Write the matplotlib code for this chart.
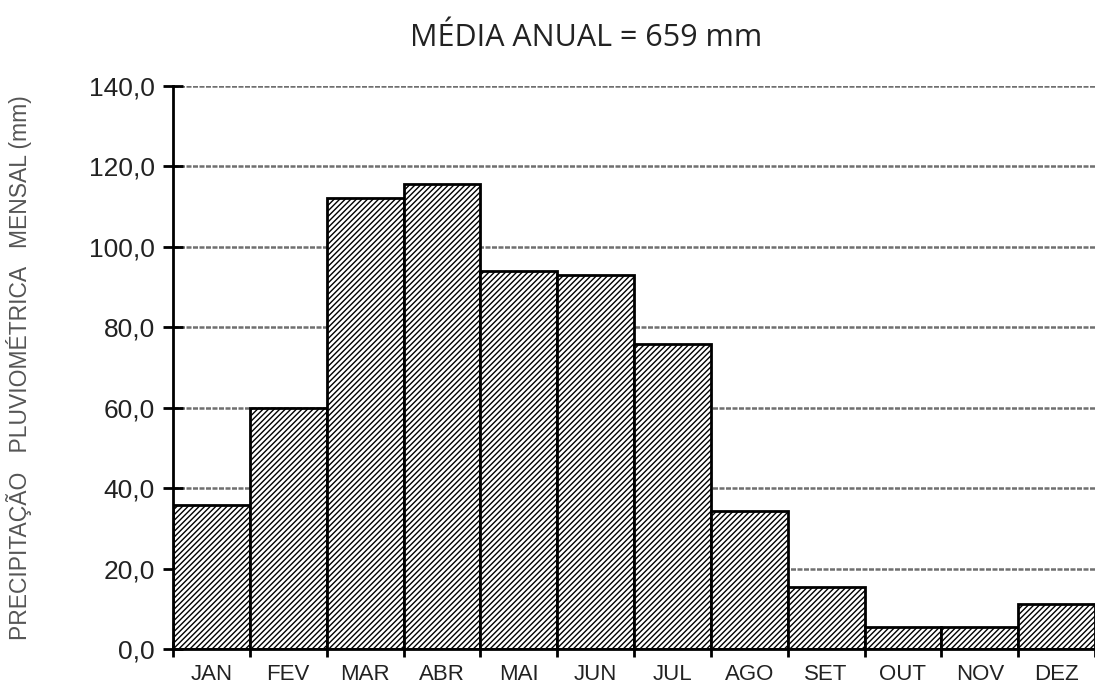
import numpy as np
import matplotlib.pyplot as plt

# precipitação média mensal (mm)
meses = ["JAN", "FEV", "MAR", "ABR", "MAI", "JUN", "JUL", "AGO", "SET", "OUT", "NOV", "DEZ"]
precip = [35.8, 60.0, 112.2, 115.7, 94.0, 93.0, 75.9, 34.3, 15.4, 5.5, 5.5, 11.2]
yticks = [0, 20, 40, 60, 80, 100, 120, 140]

plt.rcParams['hatch.color'] = '#707070'
plt.rcParams['hatch.linewidth'] = 1.0

fig = plt.figure(figsize=(10.95, 6.91), dpi=100)
ax = fig.add_axes([0.158, 0.0608, 0.842, 0.8147])

x = np.arange(len(meses))
ax.bar(x + 0.5, precip, width=1.0, facecolor='white', edgecolor='black',
       linewidth=2, hatch='//////', zorder=3)

# linhas de grade horizontais
for y in yticks[1:]:
    ax.axhline(y, color='#707070', lw=1.8, ls=(0, (2, 0.6)), zorder=1)

ax.set_xlim(0, 12)
ax.set_ylim(0, 140)
ax.set_xticks(np.arange(13))
ax.set_xticklabels([])
ax.set_xticks(x + 0.5, minor=True)
ax.set_xticklabels(meses, minor=True, fontsize=16, family='Liberation Sans', color='#222222')
ax.tick_params(axis='x', which='minor', length=0, pad=11)
ax.tick_params(axis='x', which='major', direction='inout', length=12, width=2)

ax.set_yticks(yticks)
ax.set_yticklabels([("%.1f" % v).replace('.', ',') for v in yticks],
                   fontsize=19, family='Liberation Sans', color='#222222')
ax.tick_params(axis='y', direction='inout', length=14, width=2, pad=6)

for s in ['top', 'right']:
    ax.spines[s].set_visible(False)
for s in ['left', 'bottom']:
    ax.spines[s].set_linewidth(2)
    ax.spines[s].set_zorder(4)
ax.set_ylabel("PRECIPITAÇÃO   PLUVIOMÉTRICA   MENSAL (mm)", fontsize=16.5,
              family='Liberation Sans', color='#555555')
ax.yaxis.set_label_coords(-0.153, 0.5)

fig.text(0.535, 0.945, "MÉDIA ANUAL = 659 mm", fontsize=22, family='Open Sans',
         color='#222222', ha='center', va='center')

fig.savefig("out.png", dpi=100)
